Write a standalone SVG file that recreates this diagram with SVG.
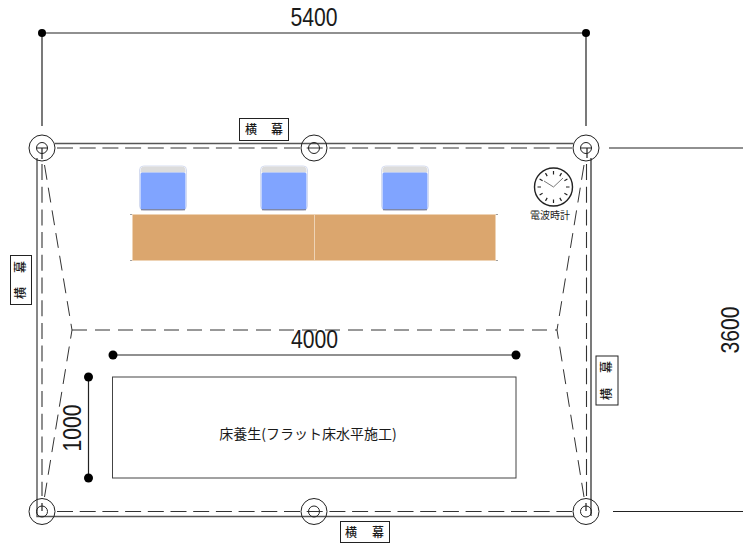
<svg xmlns="http://www.w3.org/2000/svg" width="743" height="544" viewBox="0 0 743 544">
<style>
text{font-family:"Liberation Sans","Noto Sans CJK JP",sans-serif;fill:#1a1a1a}
.s{fill:none;stroke:#222;stroke-width:1.2}
.g{fill:none;stroke:#555;stroke-width:1.4}
.d{fill:none;stroke:#333;stroke-width:1.1;stroke-dasharray:16 6.700}
.t{fill:none;stroke:#333;stroke-width:1;stroke-dasharray:15 8}
.lb{fill:#fff;stroke:#222;stroke-width:1}
.dim{font-size:26.500px}
.k{font-size:12px;font-weight:500;font-family:"Noto Sans CJK JP",sans-serif}
.tick{stroke:#222;stroke-width:1.2}
.hand{stroke:#555;stroke-width:.8}
</style>
<defs>
<g id="cm"><circle r="13" fill="none" stroke="#222" stroke-width="1"/><circle r="5.500" fill="none" stroke="#222" stroke-width="1"/></g>
<g id="tank"><rect x="0.500" y="0.500" width="47" height="44" rx="4" fill="#fff" stroke="#d5dcf0"/><path d="M1.500 7V5a4 4 0 0 1 4-4h37a4 4 0 0 1 4 4v2z" fill="#dcdcdc"/><rect x="1.500" y="7" width="45" height="37" rx="1.500" fill="#80a4ff"/><path d="M2 44.300H46" stroke="#556" stroke-width=".8"/></g>
</defs>
<g id="connectors">
<path class="s" d="M42 33H586M42 33V126M586 33V126M609 148H743M613 511.500H743M113 355H516M88.500 377V478"/>
<path class="g" d="M55 143.500H573M37 158V516.500H574"/>
<path class="s" d="M591 158V516"/>
<path class="d" d="M57 148H572M57 511.500H572"/>
<path class="d" d="M42 164V496M586.500 164V496"/>
<path class="t" d="M44.500 165L72 330L44.500 497M584 165L557 330L584 497M72 330H557"/>
<g fill="#000"><circle cx="42" cy="33" r="4"/><circle cx="586" cy="33" r="4"/><circle cx="113" cy="355" r="4.500"/><circle cx="516" cy="355" r="4.500"/><circle cx="88.500" cy="377" r="4.500"/><circle cx="88.500" cy="478" r="4.500"/></g>
</g>
<g id="post-tl"><use href="#cm" x="42" y="148"/><path class="s" d="M37 148H48M42 148V159"/></g>
<g id="post-tc"><use href="#cm" x="314" y="148"/></g>
<g id="post-tr"><use href="#cm" x="586" y="148"/><path class="s" d="M581 148H592M587 148V158"/></g>
<g id="post-bl"><use href="#cm" x="42" y="511.500"/><path class="s" d="M42 503V511"/></g>
<g id="post-bc"><use href="#cm" x="314" y="511.500"/></g>
<g id="post-br"><use href="#cm" x="586" y="511.500"/><path class="s" d="M586 503V511"/></g>
<g id="tank-1"><use href="#tank" x="139" y="165.500"/></g>
<g id="tank-2"><use href="#tank" x="260" y="165.500"/></g>
<g id="tank-3"><use href="#tank" x="381" y="165.500"/></g>
<g id="table"><rect x="132.500" y="214.500" width="182" height="46" fill="#dba66e" stroke="#eed3b5"/><rect x="314.500" y="214.500" width="181" height="46" fill="#dba66e" stroke="#eed3b5"/><path d="M130 214.500H132M130 260.500H132M496 214.500H498M496 260.500H498" stroke="#888" stroke-width=".8"/></g>
<g id="clock">
<circle cx="553.500" cy="187" r="19" fill="#fff" stroke="#222" stroke-width="1.400"/>
<path class="tick" d="M553.500 171V174.500M553.500 199.500V203M569.500 187H566M537.500 187H541M561.500 173.100L559.800 176.100M545.500 200.900L547.200 197.900M567.400 179L564.400 180.700M539.600 195L542.600 193.300M567.400 195L564.400 193.300M539.600 179L542.600 180.700M561.500 200.900L559.800 197.900M545.500 173.100L547.200 176.100"/>
<path class="hand" d="M553.500 187L544 181M553.500 187L563 178"/>
<text x="550" y="219" text-anchor="middle" style="font-size:10px;font-family:'Noto Sans CJK JP',sans-serif">電波時計</text>
</g>
<g id="label-top"><rect class="lb" x="239.500" y="118.500" width="49" height="22"/><text class="k" x="251" y="134" text-anchor="middle">横</text><text class="k" x="277" y="134" text-anchor="middle">幕</text></g>
<g id="label-bottom"><rect class="lb" x="340.500" y="521.500" width="49" height="21"/><text class="k" x="351" y="537" text-anchor="middle">横</text><text class="k" x="378" y="537" text-anchor="middle">幕</text></g>
<g id="label-left"><rect class="lb" x="10.500" y="255.500" width="21" height="49"/><text class="k" transform="rotate(-90 25 293)" x="25" y="293" text-anchor="middle">横</text><text class="k" transform="rotate(-90 25 267)" x="25" y="267" text-anchor="middle">幕</text></g>
<g id="label-right"><rect class="lb" x="596" y="356" width="22" height="49"/><text class="k" transform="rotate(-90 611 394)" x="611" y="394" text-anchor="middle">横</text><text class="k" transform="rotate(-90 611 367)" x="611" y="367" text-anchor="middle">幕</text></g>
<g id="floor"><rect x="112.500" y="377" width="403.500" height="101" fill="#fff" stroke="#444" stroke-width="1"/><text x="308" y="439" text-anchor="middle" style="font-size:14px;font-family:'Noto Sans CJK JP',sans-serif">床養生(フラット床水平施工)</text></g>
<g id="dims">
<text class="dim" transform="translate(314,26) scale(.8,1)" text-anchor="middle">5400</text>
<text class="dim" transform="translate(314.500,348) scale(.8,1)" text-anchor="middle">4000</text>
<text class="dim" transform="translate(81,428) rotate(-90) scale(.8,1)" text-anchor="middle">1000</text>
<text class="dim" transform="translate(739,330) rotate(-90) scale(.8,1)" text-anchor="middle">3600</text>
</g>
</svg>
